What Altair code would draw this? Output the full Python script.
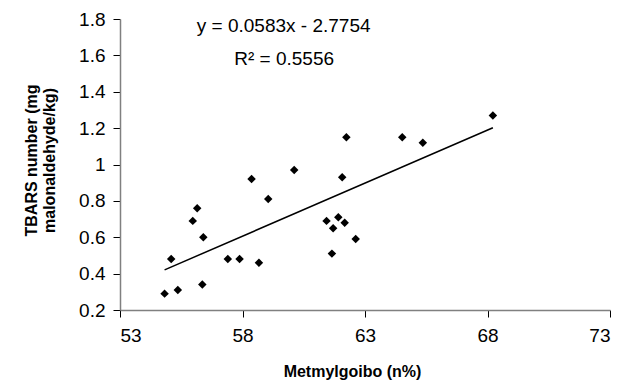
import altair as alt
import pandas as pd

# Scatter points
x_vals = [54.82, 55.36, 55.09, 56.36, 56.40, 55.97, 56.15, 57.40, 57.88, 58.67,
          58.37, 59.05, 60.11, 61.43, 61.70, 61.91, 62.17, 61.65, 62.07, 62.24,
          62.62, 64.52, 65.36, 68.22]
y_vals = [0.29, 0.31, 0.48, 0.34, 0.60, 0.69, 0.76, 0.48, 0.48, 0.46,
          0.92, 0.81, 0.97, 0.69, 0.65, 0.71, 0.68, 0.51, 0.93, 1.15,
          0.59, 1.15, 1.12, 1.27]

# Trendline coefficients (as printed on the chart)
slope = 0.0583
intercept = -2.7754

# Annotation texts
ann_text = ["y = 0.0583x - 2.7754", "R² = 0.5556"]
ann_x = [59.68, 59.7]
ann_y = [1.759, 1.578]

x_ticks = [53, 58, 63, 68, 73]
y_ticks = [0.2, 0.4, 0.6, 0.8, 1.0, 1.2, 1.4, 1.6, 1.8]

pts = pd.DataFrame({"x": x_vals, "y": y_vals})
xmin, xmax = min(x_vals), max(x_vals)
line_df = pd.DataFrame({"x": [xmin, xmax],
                        "y": [slope * xmin + intercept, slope * xmax + intercept]})
ann_df = pd.DataFrame({"x": ann_x, "y": ann_y, "t": ann_text})

FONT = "Liberation Sans"

xscale = alt.Scale(domain=[53, 73], nice=False, zero=False)
yscale = alt.Scale(domain=[0.2, 1.8], nice=False, zero=False)

xaxis = alt.Axis(values=x_ticks, title="Metmylgoibo (n%)", grid=False,
                 labelFontSize=19, labelFont=FONT, labelColor="black",
                 labelPadding=9, tickSize=7, tickColor="black", labelOverlap=False,
                 domainColor="#808080", domainWidth=1.5,
                 titleFont=FONT, titleFontSize=16, titleFontWeight="bold",
                 titleColor="black", titleX=232, titleY=61,
                 titleBaseline="middle", titleAnchor="middle")
yaxis = alt.Axis(values=y_ticks, format="~g",
                 title=["TBARS number (mg", "malonaldehyde/kg)"], grid=False,
                 labelFontSize=19, labelFont=FONT, labelColor="black",
                 labelPadding=8, tickSize=7, tickColor="black", labelOverlap=False,
                 domainColor="#808080", domainWidth=1.5,
                 titleFont=FONT, titleFontSize=16, titleFontWeight="bold",
                 titleColor="black", titleX=-89, titleY=141,
                 titleBaseline="middle", titleAnchor="middle", titleLineHeight=18)

points = alt.Chart(pts).mark_point(shape="diamond", filled=True, color="black",
                                   size=72, opacity=1).encode(
    x=alt.X("x:Q", scale=xscale, axis=xaxis),
    y=alt.Y("y:Q", scale=yscale, axis=yaxis),
)

trend = alt.Chart(line_df).mark_line(color="black", strokeWidth=1.5).encode(
    x=alt.X("x:Q", scale=xscale, axis=xaxis),
    y=alt.Y("y:Q", scale=yscale, axis=yaxis),
)

ann = alt.Chart(ann_df).mark_text(font=FONT, fontSize=19, color="black",
                                  align="center", baseline="middle").encode(
    x=alt.X("x:Q", scale=xscale, axis=xaxis),
    y=alt.Y("y:Q", scale=yscale, axis=yaxis),
    text="t:N",
)

chart = alt.layer(points, trend, ann).properties(
    width=490, height=291,
    autosize=alt.AutoSizeParams(type="none"),
    padding={"left": 112, "top": 11, "right": 10, "bottom": 72},
    background="white",
).configure_view(stroke=None)

chart.save("out.html", embed_options={"renderer": "svg", "actions": False})
